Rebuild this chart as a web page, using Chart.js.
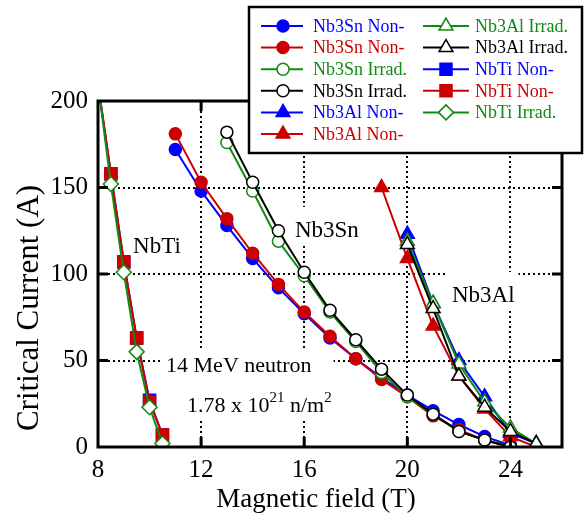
<!DOCTYPE html>
<html>
<head>
<meta charset="utf-8">
<script src="https://cdn.jsdelivr.net/npm/chart.js@4.4.1/dist/chart.umd.min.js"></script>
<style>
  html, body { margin: 0; padding: 0; background: #fff; }
  canvas { display: block; }
</style>
</head>
<body>
<canvas id="chart" width="584" height="513"></canvas>
<script>
// Nb3Sn
const nb3snNonField = [11, 12, 13, 14, 15, 16, 17, 18, 19, 20, 21, 22, 23, 24];
const nb3snNonBlue  = [172, 148, 128, 109, 92, 77, 63, 51, 40, 30, 21, 13, 6, 1];
const nb3snNonRed   = [181, 153, 132, 112, 94, 78, 64, 51, 39, 29, 18, 10, 4, 0];
const nb3snIrrField = [13, 14, 15, 16, 17, 18, 19, 20, 21, 22, 23, 24];
const nb3snIrrGreen = [176, 148, 119, 99, 78, 61, 43, 29, 19, 9, 4, 0];
const nb3snIrrBlack = [182, 153, 125, 101, 79, 62, 45, 30, 19, 9, 4, 0];
// Nb3Al
const nb3alBlueField = [20, 21, 22, 23, 24, 25];
const nb3alNonBlue   = [123, 83, 50, 29, 8, 2];
const nb3alRedField  = [19, 20, 21, 22, 23, 24, 25];
const nb3alNonRed    = [150, 109, 70, 41, 22, 6, 0];
const nb3alIrrField  = [20, 21, 22, 23, 24, 25];
const nb3alIrrGreen  = [119, 83, 48, 26, 11, 2];
const nb3alIrrBlack  = [117, 80, 41, 23, 9, 2];
// NbTi
const nbtiField    = [8, 8.5, 9, 9.5, 10, 10.5];
const nbtiNonBlue  = [210, 158, 107, 63, 27, 7];
const nbtiNonRed   = [210, 158, 107, 63, 26, 7];
const nbtiIrrGreen = [210, 152, 101, 55, 23, 2];

const xTicks = [8, 12, 16, 20, 24];
const yTicks = [0, 50, 100, 150, 200];

const BLUE = '#0000ff', RED = '#cc0000', GREEN = '#108a10', BLACK = '#000000';
const SERIF = '"Liberation Serif", "Times New Roman", serif';

function pts(xs, ys) { return xs.map((x, i) => ({ x, y: ys[i] })); }

function series(label, xs, ys, color, style, filled, radius) {
  return {
    label, data: pts(xs, ys), showLine: true,
    borderColor: color, borderWidth: 2,
    pointStyle: style, pointRadius: radius, pointHoverRadius: radius,
    pointBackgroundColor: filled ? color : '#ffffff',
    pointBorderColor: color, pointBorderWidth: 1.5,
    filled
  };
}

const datasets = [
  series('Nb3Sn Non-',   nb3snNonField, nb3snNonBlue,  BLUE,  'circle', true, 6),
  series('Nb3Sn Non-',   nb3snNonField, nb3snNonRed,   RED,   'circle', true, 6),
  series('Nb3Sn Irrad.', nb3snIrrField, nb3snIrrGreen, GREEN, 'circle', false, 6),
  series('Nb3Sn Irrad.', nb3snIrrField, nb3snIrrBlack, BLACK, 'circle', false, 6),
  series('Nb3Al Non-',   nb3alBlueField, nb3alNonBlue, BLUE,  'triangle', true, 8),
  series('Nb3Al Non-',   nb3alRedField,  nb3alNonRed,  RED,   'triangle', true, 8),
  series('Nb3Al Irrad.', nb3alIrrField, nb3alIrrGreen, GREEN, 'triangle', false, 8),
  series('Nb3Al Irrad.', nb3alIrrField, nb3alIrrBlack, BLACK, 'triangle', false, 8),
  series('NbTi Non-',    nbtiField, nbtiNonBlue,  BLUE,  'rect', true, 8.5),
  series('NbTi Non-',    nbtiField, nbtiNonRed,   RED,   'rect', true, 8.5),
  series('NbTi Irrad.',  nbtiField, nbtiIrrGreen, GREEN, 'rectRot', false, 7.5),
];
// later series drawn on top
datasets.forEach((d, i) => { d.order = datasets.length - i; });

// text labels on the plot, anchored in data units (left x, baseline y)
const notes = [
  { text: 'NbTi', x: 9.36, y: 112 },
  { text: 'Nb3Sn', x: 15.64, y: 121.4 },
  { text: 'Nb3Al', x: 21.73, y: 83.8 },
];

const notesPlugin = {
  id: 'notes',
  beforeDatasetsDraw(chart) {
    const { ctx, scales: { x, y } } = chart;
    ctx.save();
    ctx.font = '23px ' + SERIF;
    ctx.textBaseline = 'alphabetic';
    notes.forEach(n => {
      const px = x.getPixelForValue(n.x), py = y.getPixelForValue(n.y);
      const w = ctx.measureText(n.text).width;
      ctx.fillStyle = '#fff';
      ctx.fillRect(px - 4, py - 30, w + 8, 38);
      ctx.fillStyle = '#000';
      ctx.fillText(n.text, px, py);
    });

    // neutron fluence block
    const lx1 = x.getPixelForValue(10.64), ly1 = y.getPixelForValue(43.4);
    const lx2 = x.getPixelForValue(11.45), ly2 = y.getPixelForValue(20.2);
    ctx.font = '22px ' + SERIF;
    const line1 = '14 MeV neutron';
    const w1 = ctx.measureText(line1).width;
    // measure second line pieces
    const partA = '1.78 x 10', sup1 = '21', partB = ' n/m', sup2 = '2';
    const wA = ctx.measureText(partA).width, wB = ctx.measureText(partB).width;
    ctx.font = '15px ' + SERIF;
    const wS1 = ctx.measureText(sup1).width, wS2 = ctx.measureText(sup2).width;
    const right = Math.max(lx1 + w1, lx2 + wA + wS1 + wB + wS2);
    ctx.fillStyle = '#fff';
    ctx.fillRect(lx1 - 4, ly1 - 24, right - lx1 + 6, ly2 - ly1 + 32);
    ctx.fillStyle = '#000';
    ctx.font = '22px ' + SERIF;
    ctx.fillText(line1, lx1, ly1);
    let cx = lx2;
    ctx.fillText(partA, cx, ly2); cx += wA;
    ctx.font = '15px ' + SERIF;
    ctx.fillText(sup1, cx, ly2 - 10); cx += wS1;
    ctx.font = '22px ' + SERIF;
    ctx.fillText(partB, cx, ly2); cx += wB;
    ctx.font = '15px ' + SERIF;
    ctx.fillText(sup2, cx, ly2 - 10);
    ctx.restore();
  }
};

const framePlugin = {
  id: 'frame',
  afterDatasetsDraw(chart) {
    const { ctx, chartArea: a, scales: { x, y } } = chart;
    ctx.save();
    ctx.strokeStyle = '#000';
    ctx.lineWidth = 3;
    ctx.strokeRect(a.left, a.top, a.right - a.left, a.bottom - a.top);
    ctx.beginPath();
    xTicks.slice(1).forEach(v => {
      const px = x.getPixelForValue(v);
      ctx.moveTo(px, a.bottom); ctx.lineTo(px, a.bottom - 10);
      ctx.moveTo(px, a.top); ctx.lineTo(px, a.top + 10);
    });
    yTicks.slice(1, -1).forEach(v => {
      const py = y.getPixelForValue(v);
      ctx.moveTo(a.left, py); ctx.lineTo(a.left + 10, py);
      ctx.moveTo(a.right, py); ctx.lineTo(a.right - 10, py);
    });
    ctx.stroke();

    // axis titles
    ctx.fillStyle = '#000';
    ctx.textAlign = 'center';
    ctx.textBaseline = 'middle';
    ctx.font = '27px ' + SERIF;
    ctx.fillText('Magnetic field (T)', 316, 500);
    ctx.translate(30, 308);
    ctx.rotate(-Math.PI / 2);
    ctx.font = '31px ' + SERIF;
    ctx.fillText('Critical Current (A)', 0, 0);
    ctx.restore();
  }
};

const legendPlugin = {
  id: 'boxLegend',
  afterDraw(chart) {
    const { ctx } = chart;
    const box = { left: 249, top: 7, right: 582, bottom: 153 };
    ctx.save();
    ctx.fillStyle = '#fff';
    ctx.fillRect(box.left, box.top, box.right - box.left, box.bottom - box.top);
    ctx.strokeStyle = '#000';
    ctx.lineWidth = 2.5;
    ctx.strokeRect(box.left, box.top, box.right - box.left, box.bottom - box.top);
    ctx.font = '18px ' + SERIF;
    ctx.textBaseline = 'middle';
    const cols = [
      { x0: 261, x1: 303, xm: 283, xt: 313 },
      { x0: 423, x1: 469, xm: 446, xt: 475 },
    ];
    datasets.forEach((d, i) => {
      const col = cols[i < 6 ? 0 : 1];
      const row = i < 6 ? i : i - 6;
      const yy = 26 + row * 21.6;
      ctx.strokeStyle = d.borderColor;
      ctx.lineWidth = 2;
      ctx.beginPath();
      ctx.moveTo(col.x0, yy); ctx.lineTo(col.x1, yy);
      ctx.stroke();
      ctx.fillStyle = d.pointBackgroundColor;
      ctx.strokeStyle = d.pointBorderColor;
      ctx.lineWidth = d.pointBorderWidth;
      Chart.helpers.drawPoint(ctx, {
        pointStyle: d.pointStyle, radius: d.pointRadius, rotation: 0, borderWidth: d.pointBorderWidth
      }, col.xm, yy);
      ctx.fillStyle = d.borderColor;
      ctx.fillText(d.label, col.xt, yy + 1);
    });
    ctx.restore();
  }
};

new Chart(document.getElementById('chart'), {
  type: 'scatter',
  data: { datasets },
  options: {
    responsive: false,
    animation: false,
    layout: { padding: { left: 0, top: 101, right: 22, bottom: 0 } },
    plugins: { legend: { display: false }, tooltip: { enabled: false } },
    scales: {
      x: {
        type: 'linear', min: 8, max: 26,
        afterFit(s) { s.height = 66; },
        ticks: { stepSize: 4, includeBounds: false, padding: 8, maxRotation: 0, color: '#000', font: { family: SERIF, size: 25 } },
        grid: { color: '#000', lineWidth: 2, drawTicks: false },
        border: { display: false, dash: [2, 3] }
      },
      y: {
        type: 'linear', min: 0, max: 200,
        afterFit(s) { s.width = 98; },
        ticks: { stepSize: 50, padding: 10, color: '#000', font: { family: SERIF, size: 25 } },
        grid: { color: '#000', lineWidth: 2, drawTicks: false },
        border: { display: false, dash: [2, 3] }
      }
    }
  },
  plugins: [notesPlugin, framePlugin, legendPlugin]
});
</script>
</body>
</html>
